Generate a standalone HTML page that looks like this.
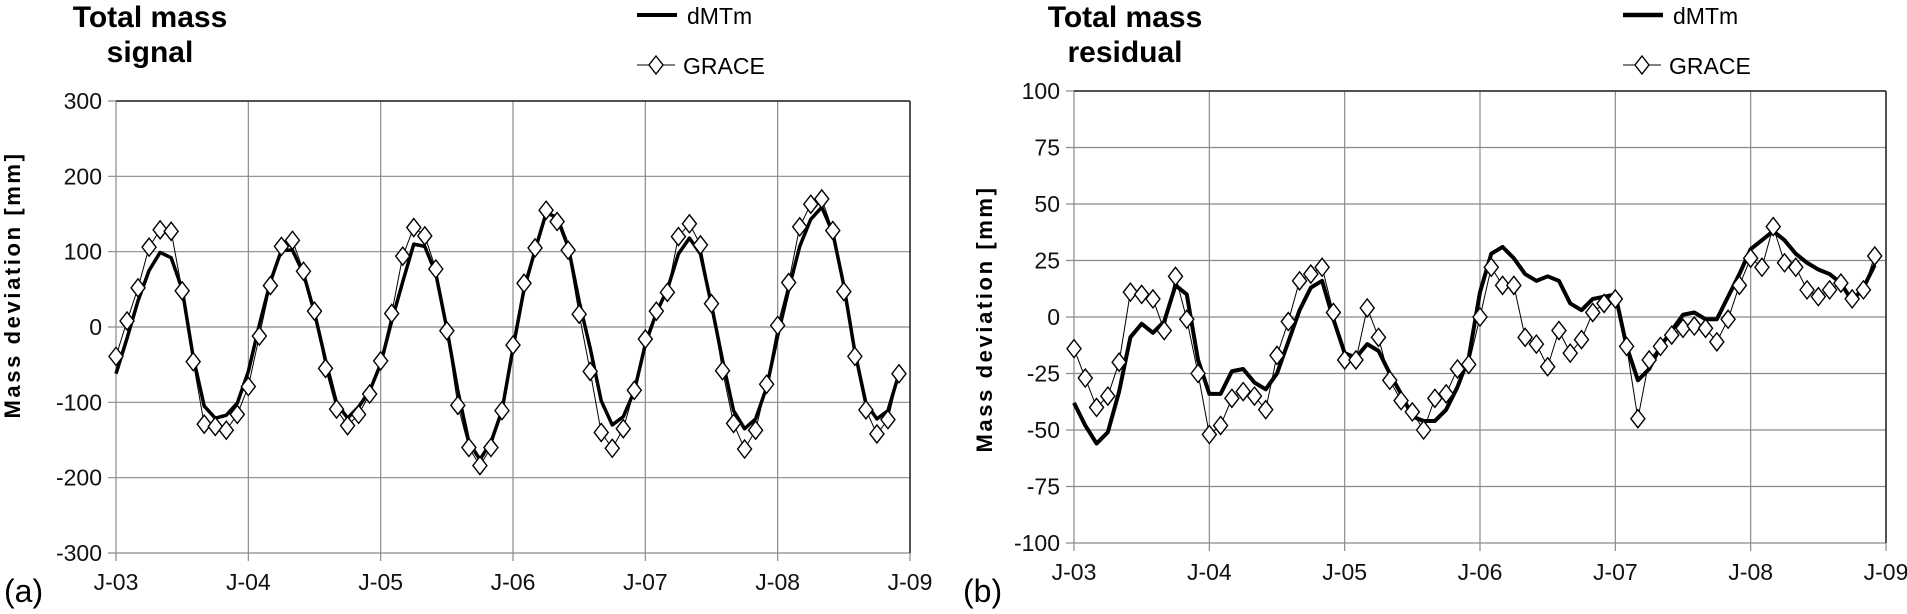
<!DOCTYPE html>
<html><head><meta charset="utf-8"><style>
html,body{margin:0;padding:0;background:#fff;}
svg{display:block;font-family:"Liberation Sans",Arial,sans-serif;}
</style></head><body>
<svg id="c" width="1907" height="614" viewBox="0 0 1907 614" xmlns="http://www.w3.org/2000/svg"></svg>
<script>
const xTickLabels = ["J-03","J-04","J-05","J-06","J-07","J-08","J-09"];
const leftYTicks = [300,200,100,0,-100,-200,-300];
const rightYTicks = [100,75,50,25,0,-25,-50,-75,-100];
const leftGrace = [-39,8,52,106,129,127,48,-46,-129,-132,-137,-116,
 -79,-12,55,107,115,74,21,-55,-109,-131,-116,-89,
 -45,18,94,132,121,77,-5,-104,-160,-184,-160,-111,
 -24,58,105,155,140,102,17,-59,-140,-161,-135,-84,
 -16,21,46,120,137,109,31,-58,-128,-162,-137,-76,
 2,59,133,163,170,128,47,-39,-110,-142,-123,-62];
const leftModel = [-62,-15,35,75,99,92,50,-40,-105,-121,-117,-101,
 -59,3,60,102,102,71,19,-44,-101,-121,-106,-85,
 -49,8,60,110,107,71,-2,-85,-153,-176,-153,-111,
 -28,50,102,151,146,107,34,-28,-98,-130,-119,-85,
 -23,19,50,97,118,97,29,-44,-111,-135,-122,-80,
 -12,50,107,143,159,125,55,-33,-101,-122,-111,-62];
const rightGrace = [-14,-27,-40,-35,-20,11,10,8,-6,18,-1,-25,
 -52,-48,-36,-33,-35,-41,-17,-2,16,19,22,2,
 -19,-19,4,-9,-28,-37,-42,-50,-36,-34,-23,-21,
 0,22,14,14,-9,-12,-22,-6,-16,-10,2,6,
 8,-13,-45,-19,-13,-8,-5,-4,-5,-11,-1,14,
 26,22,40,24,22,12,9,12,15,8,12,27];
const rightModel = [-38,-48,-56,-51,-33,-9,-3,-7,-2,14,10,-19,
 -34,-34,-24,-23,-29,-32,-25,-11,3,13,16,-1,
 -16,-18,-12,-15,-25,-34,-44,-46,-46,-41,-31,-18,
 11,28,31,26,19,16,18,16,6,3,8,9,
 10,-13,-28,-23,-13,-6,1,2,-1,-1,9,19,
 30,34,38,34,28,24,21,19,15,7,13,23];

const NS="http://www.w3.org/2000/svg";
const svg=document.getElementById('c');
function mk(tag,attrs,parent){const e=document.createElementNS(NS,tag);for(const k in attrs)e.setAttribute(k,attrs[k]);(parent||svg).appendChild(e);return e;}

function chart(cfg){
  const g=mk('g',{});
  
  
  const {x0,x1,y0,y1,ymin,ymax}=cfg;
  const xs=i=>x0+(x1-x0)*i/72;
  const ys=v=>y1+(y0-y1)*(v-ymin)/(ymax-ymin);
  cfg.yticks.forEach(v=>{
    const l=mk('line',{x1:x0-8,x2:x1,y1:ys(v),y2:ys(v),stroke:'#8a8a8a','stroke-width':1.2},g);
    
    
    const t=mk('text',{x:x0-14,y:ys(v)+8,'text-anchor':'end','font-size':23,fill:'#111'},g);
    t.textContent=v;
    
    
  });
  xTickLabels.forEach((s,k)=>{
    const x=xs(k*12);
    const l=mk('line',{x1:x,x2:x,y1:y0,y2:y1+8,stroke:'#8a8a8a','stroke-width':1.2},g);
    
    
    const t=mk('text',{x:x,y:y1+37,'text-anchor':'middle','font-size':23,fill:'#111'},g);
    t.textContent=s;
    
    
  });
  const tb=mk('line',{x1:x0,x2:x1,y1:y0,y2:y0,stroke:'#222','stroke-width':1.5},g);
  
  const rb=mk('line',{x1:x1,x2:x1,y1:y0,y2:y1,stroke:'#222','stroke-width':1.5},g);
  
  const gp=mk('polyline',{points:cfg.grace.map((v,i)=>xs(i)+','+ys(v)).join(' '),fill:'none',stroke:'#000','stroke-width':1},g);
  
  const mp=mk('polyline',{points:cfg.model.map((v,i)=>xs(i)+','+ys(v)).join(' '),fill:'none',stroke:'#000','stroke-width':cfg.mw,'stroke-linejoin':'round'},g);
  
  cfg.grace.forEach((v,i)=>{
    const x=xs(i),y=ys(v);
    const d=mk('polygon',{points:`${x},${y-9} ${x+7},${y} ${x},${y+9} ${x-7},${y}`,fill:'#fff',stroke:'#000','stroke-width':1.4},g);
    
    
  });
  cfg.title.forEach((s,k)=>{
    const t=mk('text',{x:cfg.tx,y:27+k*35,'text-anchor':'middle','font-size':30,'font-weight':'bold',fill:'#000'},g);
    t.textContent=s;
    
    
  });
  const yt=mk('text',{x:0,y:0,transform:`translate(${cfg.yx},${cfg.yy}) rotate(-90)`,'text-anchor':'middle','font-size':22,'font-weight':'bold','letter-spacing':'2.6',fill:'#000'},g);
  yt.textContent='Mass deviation   [mm]';
  
  
  const L=cfg.lx;
  const ll=mk('line',{x1:L,x2:L+40,y1:15,y2:15,stroke:'#000','stroke-width':cfg.mw+0.5},g);
  
  const lt=mk('text',{x:L+50,y:24,'font-size':23,fill:'#000'},g);lt.textContent='dMTm';
  
  const gl=mk('line',{x1:L,x2:L+38,y1:65,y2:65,stroke:'#000','stroke-width':1},g);
  
  const gm=mk('polygon',{points:`${L+19},${56} ${L+26},65 ${L+19},74 ${L+12},65`,fill:'#fff',stroke:'#000','stroke-width':1.4},g);
  
  const gt=mk('text',{x:L+46,y:74,'font-size':23,fill:'#000'},g);gt.textContent='GRACE';
  
  const pl=mk('text',{x:cfg.px,y:602,'font-size':32,fill:'#000'},g);pl.textContent=cfg.plabel;
  
}
chart({name:'signal-chart',x0:116,x1:910,y0:101,y1:553,ymin:-300,ymax:300,yticks:leftYTicks,
  grace:leftGrace,model:leftModel,mw:3.5,title:['Total mass','signal'],tx:150,yx:20,yy:285,lx:637,px:4,plabel:'(a)'});
chart({name:'residual-chart',x0:1074,x1:1886,y0:91,y1:543,ymin:-100,ymax:100,yticks:rightYTicks,
  grace:rightGrace,model:rightModel,mw:4,title:['Total mass','residual'],tx:1125,yx:992,yy:319,lx:1623,px:963,plabel:'(b)'});
</script>
</body></html>
